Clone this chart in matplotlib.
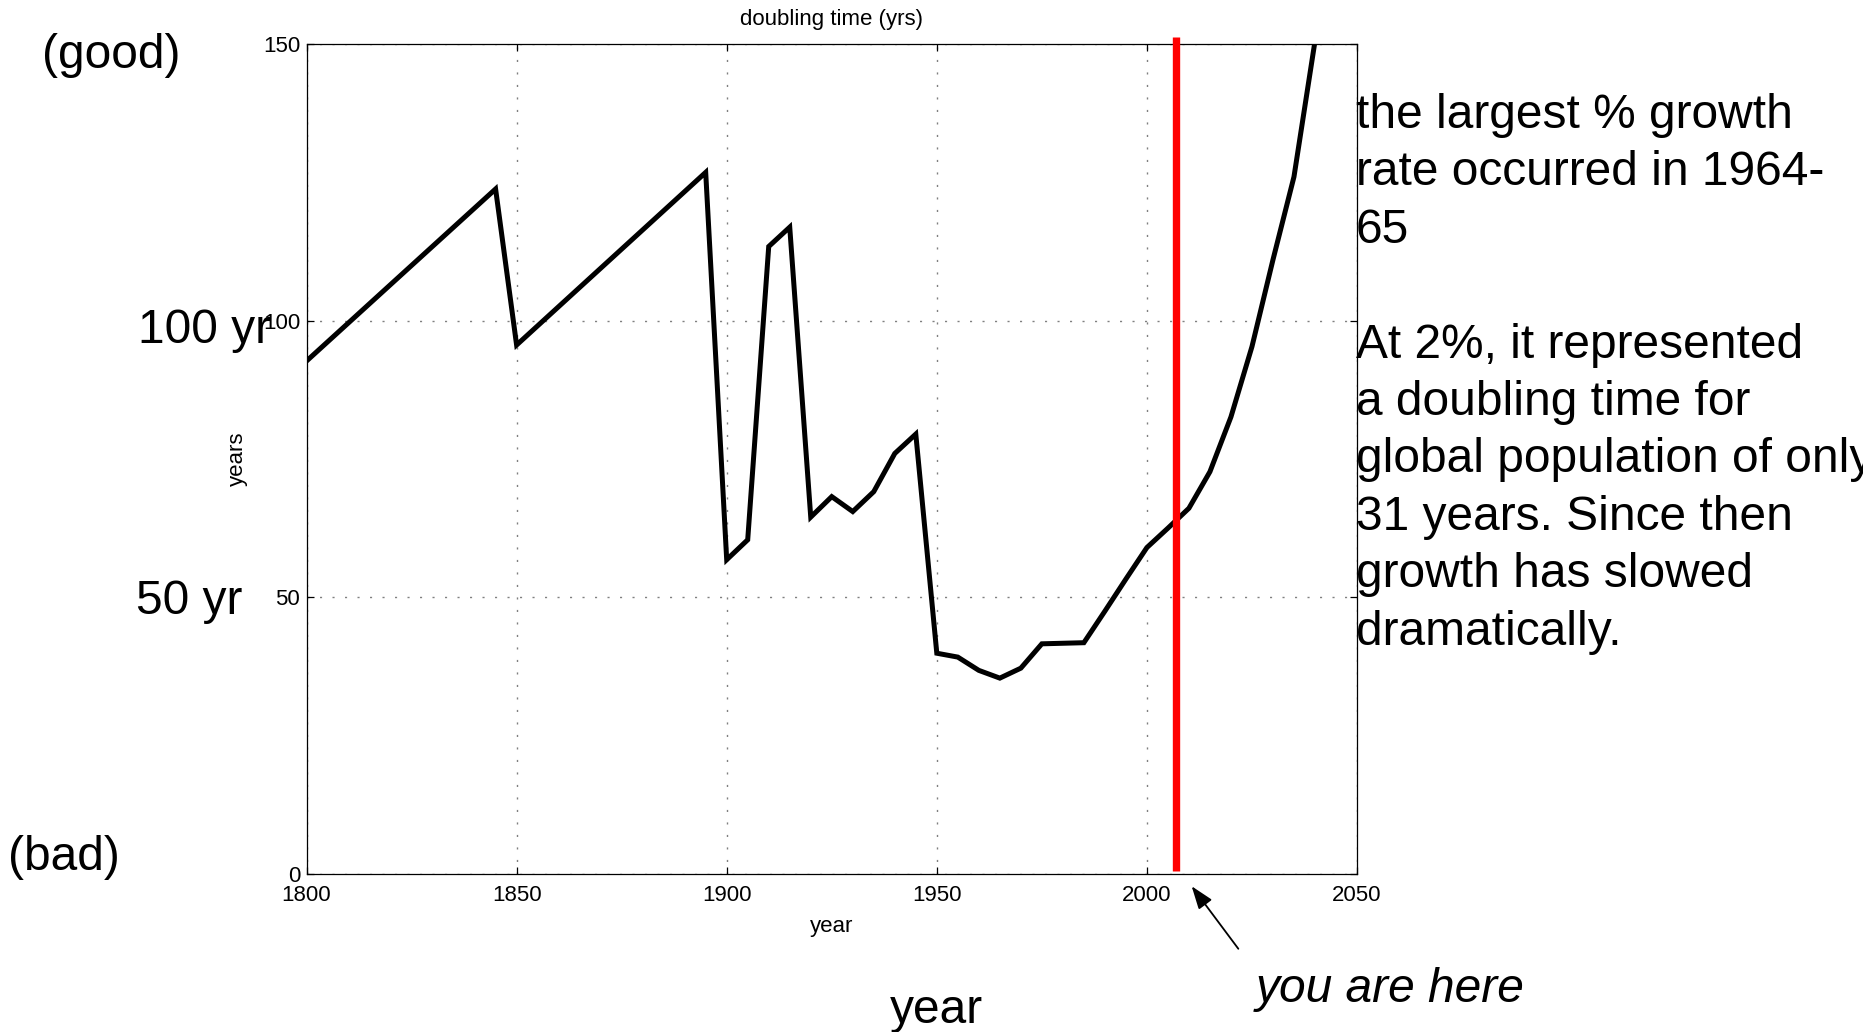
import matplotlib.pyplot as plt

plt.rcParams['font.family'] = ['Liberation Sans', 'DejaVu Sans']

# doubling time of world population
years = [1800, 1845, 1850, 1895,
         1900, 1905, 1910, 1915, 1920, 1925, 1930, 1935, 1940, 1945,
         1950, 1955, 1960, 1965, 1970, 1975, 1980, 1985, 1990, 1995,
         2000, 2005, 2010, 2015, 2020, 2025, 2030, 2035, 2040]
doubling_time = [92.7, 123.8, 95.6, 126.8,
                 56.8, 60.4, 113.4, 116.9, 64.5, 68.2, 65.5, 69.1, 76.0, 79.5,
                 39.9, 39.2, 36.8, 35.4, 37.2, 41.6, 41.7, 41.8, 47.5, 53.3,
                 59.0, 62.5, 66.1, 72.7, 82.6, 95.3, 111.0, 126.0, 150.5]

x_ticks = [1800, 1850, 1900, 1950, 2000, 2050]
y_ticks = [0, 50, 100, 150]
now_year = 2007

side_lines = ["the largest % growth",
              "rate occurred in 1964-",
              "65",
              "",
              "At 2%, it represented",
              "a doubling time for",
              "global population of only",
              "31 years. Since then",
              "growth has slowed",
              "dramatically."]

W, H = 1863, 1032


def fx(x):
    return x / W


def fy(y):
    return 1 - y / H


fig = plt.figure(figsize=(W / 100, H / 100), dpi=100)
ax = fig.add_axes([fx(306.5), fy(874), 1050.5 / W, 830 / H])

ax.plot(years, doubling_time, color='black', lw=3.6, solid_joinstyle='miter')
ax.plot([now_year, now_year], [0.6, 151.2], color='#ff0000', lw=5.3,
        clip_on=False, zorder=5, solid_capstyle='butt')

ax.set_xlim(1800, 2050)
ax.set_ylim(0, 150)
ax.set_xticks(x_ticks)
ax.set_yticks(y_ticks)
ax.grid(True, color='#808080', lw=1.0, linestyle=(0, (1.5, 7.5)))
ax.tick_params(direction='in', top=True, right=True, length=5, width=0.9,
               labelsize=16, colors='black')
ax.tick_params(axis='x', pad=8)
ax.tick_params(axis='y', pad=4.5)
for sp in ax.spines.values():
    sp.set_linewidth(0.9)

ax.set_title("doubling time (yrs)", fontsize=16, pad=14)
ax.set_xlabel("year", fontsize=16)
ax.set_ylabel("years", fontsize=16)
ax.xaxis.set_label_coords(0.5, -0.051)
ax.yaxis.set_label_coords(-0.056, 0.5)

# big annotations around the plot
big = 34.5
fig.text(fx(42), fy(68), "(good)", fontsize=big, va='baseline')
fig.text(fx(138), fy(343), "100 yr", fontsize=big, va='baseline')
fig.text(fx(136), fy(614), "50 yr", fontsize=big, va='baseline')
fig.text(fx(8), fy(870), "(bad)", fontsize=big, va='baseline')
fig.text(fx(936), fy(1023), "year", fontsize=big, va='baseline', ha='center')
fig.text(fx(1256), fy(1002), "you are here", fontsize=big, va='baseline',
         style='italic')

for i, line in enumerate(side_lines):
    fig.text(fx(1356), fy(128 + 57.4 * i), line, fontsize=big, va='baseline')

fig.patches.append(plt.matplotlib.patches.FancyArrowPatch(
    (fx(1240), fy(951)), (fx(1190), fy(884)), transform=fig.transFigure,
    arrowstyle='-|>,head_length=14,head_width=5', mutation_scale=1,
    color='black', lw=1.3))

fig.savefig("out.png", dpi=100)
